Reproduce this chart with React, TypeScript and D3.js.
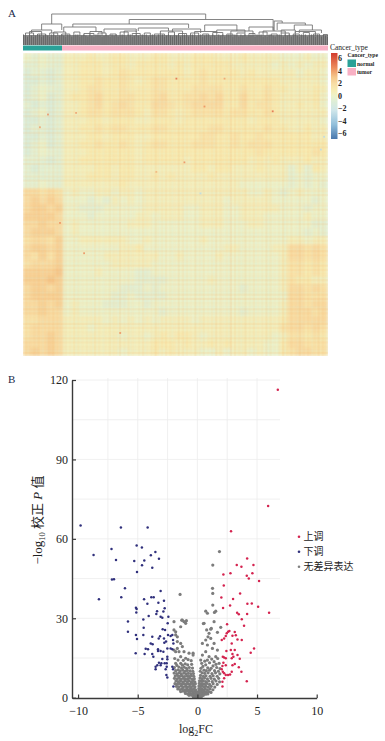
import React, { useEffect, useRef } from "react";
import * as d3 from "d3";

// Panel A: heat map, one digit per cell (first 5 columns are normal samples)
const heatStep = 0.5;
const heatZero = 3;
const heatRows = [
  "32322444544554445544455544454444333433",
  "22322445554554555545455555444443434344",
  "12212445554565555555456555545444443443",
  "11212445565565456655556555555555444443",
  "12322445665565556655566665565565544454",
  "12312455675566556755667675575565444453",
  "21212445675676557765677775575665445453",
  "12312445665666546654566665665565444444",
  "11212444554555445554555555554555444443",
  "12212445565665556655555665555565544544",
  "11212444554555445555556655655655555544",
  "12312445565565456655566655656665555555",
  "12322444555555455555555555555655555565",
  "22212445555555455555455555554545444544",
  "21222444455455444444455455444544424254",
  "22222444555455445454444544444444423233",
  "22322444444454444444444444433333323232",
  "77676343344344344444444444443343234333",
  "78787333232434344444444443444443333323",
  "78878332223333344444334443344444333233",
  "88887333233333443444334443344433333433",
  "77877343333334443333334443334433333322",
  "78887343333333333333333333333333333232",
  "67768334444443343333334333333333344344",
  "78878333333344533333333334433334477676",
  "76868333334444444334333343333333477676",
  "67778333333444443333333333333333466565",
  "88889333343333223333333333333333466565",
  "88898333333333222233333433333333465544",
  "78878333333322232333333333323333477676",
  "78888333333223222233333333333333377666",
  "77878343332223323333333333333333477677",
  "77877343333333333233333333323333477767",
  "66777444443434343444434444444444577777",
  "67777444344444444444444444444444677676",
  "67787444444434434545543444444443466565",
  "77787444444444445554544545444433577666",
  "78787444444434445454443343443433567766",
];
// thin sample and gene stripes seen over the blocks, 4 = neutral
const columnStripes =
  "46354637425364736253645372635463527364254736528463725346372546385263746253847263548362745362847536294736258463725364827354638263745283647526384752";
const rowStripes =
  "53647263548273645263748253647382546372854637284536472835463728453672845367284536728453628473562847356284735628473562849365283746528374652837465283";
// strong single cells: column, row, value
const hotCells = [
  [19, 3.1, 5.5], [25, 3.1, 4], [31, 7.2, 5.5], [22.5, 6.6, 4.5], [3, 7.6, 4.5], [4.5, 21.2, 4.5],
  [22, 17.5, -3], [37, 12, -3], [37.4, 10.4, -3], [6.5, 7.4, 4], [20, 13.6, 4.5], [7.5, 25, 4.5],
  [2, 9.2, 4], [12, 35, 4.5], [16.5, 14.8, 3.5],
];
const heatStops = [-6.9, -4.6, -2.3, -1, -0.5, 0, 0.5, 1, 2, 3, 4.6, 6.9];
const heatColors = ["#4a78ad", "#91bfdb", "#cfe6ea", "#dcedd8", "#e4f0d2", "#ecf2ca", "#f3efbd", "#f7ebb2", "#f8dda4", "#f5c88c", "#ec8a5a", "#d23c2e"];
const heatTicks = [6, 4, 2, 0, -2, -4, -6];

// Dendrogram: left sample, right sample, height, left drop height, right drop height
const leafCount = 152;
const leafTops =
  "98798789978987998789879878997898798798978987989789879978987989789879897898798978987998789789879879897898798798978987989787998789879897898798978987";
const bigMerges = [
  [14, 90.5, 31, 21, 25.5],
  [9, 19, 21, 15, 15],
  [4, 14, 15, 12, 12],
  [52.5, 124, 25.5, 21, 15],
  [24.5, 82, 21, 18, 17],
  [20, 36, 18, 13, 13],
  [57, 72, 17, 14, 14],
  [90, 106, 20, 14, 14],
  [112, 124, 18, 14, 14],
  [124.5, 128.5, 24, 14, 22],
  [126, 140, 22, 15, 20],
  [134.5, 143.5, 20, 15, 15],
  [128, 135, 15, 12, 12],
  [137, 148, 15, 12, 12],
  [40, 56, 16, 12, 13],
  [74, 88, 16, 13, 12],
  [96, 110, 15, 12, 12],
];
const tinyMerges = [
  [1, 5, 12], [7, 11, 11], [13, 17, 12], [19, 23, 11], [25, 28, 13], [30, 35, 11.5], [37, 41, 12], [43, 46, 11], [48, 52, 13],
  [54, 58, 11.5], [60, 63, 12], [65, 70, 11], [72, 75, 13], [77, 81, 11.5], [83, 87, 12], [89, 92, 11], [94, 99, 12.5],
  [101, 104, 11], [106, 110, 12], [112, 115, 11.5], [117, 121, 13], [123, 126, 11], [128, 132, 12], [134, 137, 11],
  [139, 142, 12.5], [144, 147, 11], [149, 151, 10.5], [3, 9, 13.5], [15, 21, 13], [33, 39, 13.5], [50, 56, 14], [68, 79, 14],
  [85, 96, 13.5], [103, 114, 14], [119, 130, 14], [135, 145, 13.5],
];

// Panel B: log2FC, -log10 adjusted P
const upPoints = [
  [6.74, 116.3], [5.93, 72.4], [2.82, 62.9], [4.17, 52.6], [4.7, 50.1], [3.3, 50.1], [3.69, 49.5], [2.18, 46.5], [2.77, 47], [4.61, 47],
  [4.14, 46.1], [4.31, 45], [5.17, 44.1], [2.21, 42.4], [2.01, 37.8], [3.58, 39.4], [2.99, 37.3], [4.19, 35.5], [4.56, 35.6], [2.74, 34.8],
  [2.15, 33.9], [5.09, 34.4], [6.01, 32.1], [3.33, 32.1], [3.47, 31.5], [4.17, 31.6], [3.72, 29.6], [3.91, 27.2], [2.49, 27.7], [2.68, 25.2],
  [2.57, 24.9], [2.46, 24.3], [3.13, 24.8], [3.22, 23.6], [2.94, 23.4], [2.38, 23.3], [2.24, 22.4], [2.04, 21.8], [3.36, 22], [3.72, 21.8],
  [2.88, 20.5], [4.75, 18.6], [4.47, 17], [3.13, 18], [2.8, 18], [2.43, 17.6], [2.13, 15.5], [2.24, 15.2], [2.38, 14.9], [2.94, 16.5],
  [3.02, 15.5], [2.88, 14.9], [3.36, 16.1], [3.55, 14.7], [2.18, 13.2], [2.1, 12], [2.38, 12.3], [2.94, 12.3], [3.13, 12.7], [3.47, 11.5],
  [3.69, 9.8], [2.04, 10.7], [2.13, 9.8], [2.24, 9.2], [2.38, 8.6], [2.57, 8.6], [2.74, 8.8], [2.88, 9.8], [2.24, 7.3], [2.1, 6], [4.14, 6.2], [2.1, 4.2],
];
const downPoints = [
  [-9.79, 65], [-6.41, 64.3], [-4.17, 64.3], [-5.09, 57.5], [-4.65, 56.7], [-3.9, 53.8], [-7.2, 56.2],
  [-8.7, 53.9], [-6.82, 52], [-3.52, 55], [-3.22, 52.5], [-5.29, 51.6], [-4.45, 51.8], [-4.64, 50], [-3.78, 49.1], [-5.06, 47.5],
  [-7.16, 44.6], [-6.99, 44.7], [-6.07, 41.3], [-6.38, 37.9], [-8.25, 37.2], [-3.08, 40.3], [-4.47, 37.2], [-4.19, 35.5], [-3.86, 37.9], [-3.66, 37.9],
  [-3.27, 35.9], [-2.8, 36.6], [-5.15, 34], [-5.09, 33.5], [-5.12, 32.2], [-4.08, 30.9], [-3.38, 32.7], [-3.44, 31.6], [-2.74, 33.8], [-2.85, 32.6],
  [-3.08, 30.6], [-2.94, 30.2], [-2.43, 30.6], [-4.53, 29.5], [-5.82, 28.8], [-2.49, 28.1], [-5.82, 24.9], [-4.5, 26.4], [-2.91, 25.9], [-2.71, 25.6],
  [-5.15, 23.7], [-5.06, 22.2], [-4.53, 23.7], [-3.78, 23], [-3.13, 23.2], [-3.24, 22.4], [-2.46, 23.7], [-2.24, 23.3], [-2.1, 23.7], [-2.8, 22.4],
  [-2.63, 21.2], [-2.77, 20.8], [-3.91, 20.5], [-3.75, 20.2], [-2.04, 21.8], [-2.01, 20.5], [-4.33, 18.5], [-4.14, 18.3], [-4.42, 16.5], [-5.17, 16.8],
  [-3.3, 18.3], [-3.3, 17.6], [-3.08, 17.6], [-2.85, 17.4], [-3.78, 16.5], [-3.69, 15.5], [-2.52, 18.6], [-2.24, 18.6], [-2.1, 18.3], [-2.52, 15.5],
  [-2.52, 14.5], [-2.94, 14.6], [-3.02, 13], [-2.74, 13], [-2.57, 13], [-3.22, 13.2], [-3.36, 12.3], [-3.08, 12.3], [-3.5, 11.7], [-3.5, 10.7],
  [-2.57, 11.7], [-2.66, 10.7], [-2.6, 8.6], [-2.52, 7.6], [-2.1, 11.7], [-2.04, 10.7], [-2.01, 4.2],
];
const flatPoints = [
  [1.85, 55.2], [1.29, 50.1], [1.27, 41.3], [1.29, 39.4], [1.29, 35], [0.7, 32.7], [0.84, 31.9], [1.43, 32.2], [1.54, 32.7], [-1.45, 39],
  [-1.26, 29.3], [-0.98, 28.1], [-1.4, 26.8], [-1.82, 23.7], [-1.68, 23], [-1.4, 20.5], [-1.26, 19.3], [-1.82, 17.4], [-1.54, 17.4], [-1.12, 17.4],
  [-0.7, 16.8], [-0.36, 16.8], [-1.4, 15.5], [-0.98, 14.9], [-1.82, 13], [-1.4, 13], [-1.31, 29.3], [-0.92, 29.1], [-1.12, 28.7], [-1.96, 28.7],
  [-1.96, 25.6], [-1.82, 24.9], [-1.68, 21.2], [-1.68, 18.6], [-1.96, 18], [-0.36, 16.1], [0.56, 28.1], [1.12, 25.9], [0.98, 24.3], [0.89, 23],
  [0.7, 21.8], [1.12, 22.4], [0.42, 20.5], [0.84, 19.9], [1.4, 20.5], [1.68, 18], [1.26, 18.6], [0.7, 17.4], [0.42, 16.1], [0.98, 15.5],
  [1.54, 15.5], [0.28, 14.2], [0.84, 14.2], [1.4, 13.6], [0.5, 28], [1.17, 26.2], [1.4, 28.7], [0.78, 25.6], [1.68, 24.7], [1.96, 26.6],
  // left arm, dense part
  [-1.9, 14.8], [-1.62, 14.2], [-1.18, 14.1], [-0.78, 14.4], [-0.52, 14], [-1.72, 12.2], [-1.25, 12.3], [-1.02, 12.8], [-0.81, 12.4], [-0.48, 12.6],
  [-1.93, 11.4], [-1.55, 11.6], [-1.33, 11.2], [-1.1, 11.5], [-0.92, 11.1], [-0.68, 11.4], [-0.41, 11.2], [-1.82, 10.2], [-1.61, 10.5], [-1.44, 10.1],
  [-1.22, 10.4], [-1.03, 10], [-0.84, 10.3], [-0.61, 10.1], [-0.38, 10], [-1.95, 9.3], [-1.74, 9.1], [-1.52, 9.4], [-1.35, 9], [-1.14, 9.3],
  [-0.95, 9], [-0.76, 9.2], [-0.55, 9], [-0.33, 9.1], [-1.86, 8.2], [-1.66, 8.4], [-1.47, 8.1], [-1.28, 8.3], [-1.08, 8], [-0.89, 8.3],
  [-0.7, 8.1], [-0.5, 8.3], [-0.3, 8.1], [-1.92, 7.3], [-1.71, 7.1], [-1.56, 7.4], [-1.38, 7], [-1.19, 7.3], [-1.01, 7], [-0.82, 7.2],
  [-0.64, 7.4], [-0.44, 7], [-0.26, 7.2], [-1.8, 6.3], [-1.63, 6.1], [-1.42, 6.4], [-1.24, 6], [-1.06, 6.3], [-0.87, 6.1], [-0.71, 6.4],
  [-0.53, 6], [-0.36, 6.3], [-0.22, 6], [-1.88, 5.3], [-1.68, 5.1], [-1.49, 5.4], [-1.3, 5], [-1.12, 5.3], [-0.95, 5], [-0.78, 5.3],
  [-0.6, 5.1], [-0.42, 5.4], [-0.27, 5.1], [-0.17, 5.3], [-1.76, 4.3], [-1.57, 4.1], [-1.37, 4.4], [-1.18, 4], [-1, 4.3], [-0.83, 4],
  [-0.66, 4.3], [-0.5, 4.1], [-0.34, 4.4], [-0.2, 4.1], [-1.64, 3.3], [-1.45, 3.1], [-1.26, 3.4], [-1.07, 3], [-0.9, 3.3], [-0.73, 3],
  [-0.57, 3.4], [-0.42, 3.1], [-0.28, 3.3], [-0.15, 3], [-1.4, 2.3], [-1.22, 2.5], [-1.03, 2.2], [-0.86, 2.5], [-0.69, 2.2], [-0.53, 2.5],
  [-0.39, 2.2], [-0.25, 2.4], [-0.11, 2.2], [-1, 1.6], [-0.82, 1.4], [-0.65, 1.7], [-0.49, 1.4], [-0.34, 1.6], [-0.2, 1.4], [-0.08, 1.6],
  [-0.7, 0.9], [-0.52, 1], [-0.36, 0.8], [-0.22, 1], [-0.1, 0.8], [-0.34, 0.4], [-0.2, 0.3], [-0.07, 0.4], [-0.02, 0.2],
  // right arm, dense part
  [1.7, 14.8], [1.2, 14.6], [0.62, 13.8], [0.36, 13], [1.02, 13.2], [1.56, 12.6], [1.82, 13], [0.7, 12.4], [1.31, 12], [0.46, 11.8],
  [0.3, 11.1], [0.87, 11.3], [1.15, 11.1], [1.62, 11.4], [1.9, 11], [0.55, 10.4], [0.75, 10.2], [1.02, 10.4], [1.44, 10.2], [1.76, 10],
  [0.24, 10], [0.4, 9.4], [0.62, 9.2], [0.9, 9.4], [1.22, 9.1], [1.52, 9.4], [1.88, 9], [0.26, 8.4], [0.5, 8.1], [0.72, 8.3],
  [1.06, 8.1], [1.32, 8.3], [1.66, 8.1], [0.22, 7.4], [0.38, 7.2], [0.6, 7.4], [0.84, 7.1], [1.14, 7.3], [1.42, 7], [1.78, 7.3],
  [0.18, 6.4], [0.33, 6.2], [0.5, 6.4], [0.7, 6.1], [0.94, 6.3], [1.24, 6.1], [1.56, 6.3], [1.86, 6], [0.16, 5.4], [0.3, 5.1],
  [0.44, 5.3], [0.6, 5.1], [0.8, 5.4], [1.02, 5], [1.32, 5.3], [1.66, 5], [0.13, 4.4], [0.26, 4.2], [0.4, 4.4], [0.55, 4.1],
  [0.72, 4.3], [0.92, 4], [1.16, 4.3], [1.46, 4], [0.12, 3.4], [0.23, 3.1], [0.36, 3.3], [0.5, 3], [0.66, 3.3], [0.84, 3],
  [1.06, 3.3], [1.3, 3], [0.1, 2.4], [0.2, 2.2], [0.32, 2.4], [0.45, 2.1], [0.6, 2.4], [0.76, 2.1], [0.96, 2.3], [1.14, 2],
  [0.07, 1.6], [0.16, 1.4], [0.27, 1.6], [0.4, 1.3], [0.54, 1.6], [0.7, 1.3], [0.88, 1.4], [0.06, 0.9], [0.14, 0.8], [0.25, 1],
  [0.37, 0.7], [0.5, 0.9], [0.03, 0.4], [0.1, 0.3], [0.2, 0.4], [0.32, 0.3],
];
const xTicks = [-10, -5, 0, 5, 10];
const yTicks = [0, 30, 60, 90, 120];
const xGrid = [-7.5, -5, -2.5, 0, 2.5, 5];
const yGrid = [15, 30, 45, 60, 75, 90, 105, 120];
const legendItems = [
  ["上调", "#d4234f"],
  ["下调", "#30307c"],
  ["无差异表达", "#808080"],
];

const serif = "'Liberation Serif', 'Noto Sans CJK SC', serif";

export default function App() {
  const svgRef = useRef<SVGSVGElement>(null);

  useEffect(() => {
    const svg = d3.select(svgRef.current);
    svg.selectAll("*").remove();
    svg.style("font-family", serif);

    const heatColor = d3.scaleLinear<string>().domain(heatStops).range(heatColors);

    // A: dendrogram
    const leafX = d3.scaleLinear().domain([0, leafCount - 1]).range([23.5, 327.5]);
    const treeY = d3.scaleLinear().domain([0, 31]).range([45, 14]);
    const tree = svg.append("g").attr("fill", "none");
    tree.append("rect").attr("x", 23).attr("y", treeY(10)).attr("width", 305).attr("height", treeY(0) - treeY(10)).attr("fill", "#8a8a8a");
    d3.range(leafCount).forEach((i) => {
      tree.append("line").attr("x1", leafX(i)).attr("x2", leafX(i)).attr("y1", treeY(0)).attr("y2", treeY(+leafTops[i % leafTops.length] + 1.5))
        .attr("stroke", "#666").attr("stroke-width", 1);
    });
    tinyMerges.forEach(([a, b, h]) => {
      tree.append("path").attr("stroke", "#666").attr("stroke-width", 0.8)
        .attr("d", `M${leafX(a)},${treeY(9)}V${treeY(h)}H${leafX(b)}V${treeY(9)}`);
    });
    bigMerges.forEach(([a, b, h, ha, hb]) => {
      tree.append("path").attr("stroke", "#777").attr("stroke-width", 0.9)
        .attr("d", `M${leafX(a)},${treeY(ha)}V${treeY(h)}H${leafX(b)}V${treeY(hb)}`);
    });

    // A: annotation bar
    svg.append("rect").attr("x", 23).attr("y", 45.5).attr("width", 39).attr("height", 5).attr("fill", "#2aa198");
    svg.append("rect").attr("x", 62).attr("y", 45.5).attr("width", 266).attr("height", 5).attr("fill", "#f8b0c4");

    // A: heat map
    const colX = d3.scaleLinear().domain([0, 38]).range([23, 328]);
    const rowY = d3.scaleLinear().domain([0, heatRows.length]).range([53, 356]);
    const defs = svg.append("defs");
    defs.append("filter").attr("id", "soft").append("feGaussianBlur").attr("stdDeviation", 1.8);
    defs.append("filter").attr("id", "softer").append("feGaussianBlur").attr("stdDeviation", 0.7);
    defs.append("clipPath").attr("id", "heatClip").append("rect").attr("x", 23).attr("y", 53).attr("width", 305).attr("height", 303);
    const heatClip = svg.append("g").attr("clip-path", "url(#heatClip)");
    const heat = heatClip.append("g").attr("filter", "url(#soft)");
    heatRows.forEach((row, r) => {
      row.split("").forEach((d, c) => {
        heat.append("rect").attr("x", colX(c) - 0.2).attr("y", rowY(r) - 0.2)
          .attr("width", colX(1) - colX(0) + 0.4).attr("height", rowY(1) - rowY(0) + 0.4)
          .attr("fill", heatColor((+d - heatZero) * heatStep));
      });
    });
    // stripes: above 4 warms the cell line, below 4 cools it
    const stripes = heatClip.append("g").attr("filter", "url(#softer)");
    const stripeFill = (d: number) => (d > 4 ? "#f2a35e" : "#b5dbe2");
    const stripeAlpha = (d: number) => Math.abs(d - 4) * 0.03;
    const stripeX = d3.scaleLinear().domain([0, columnStripes.length]).range([23, 328]);
    const stripeY = d3.scaleLinear().domain([0, rowStripes.length]).range([53, 356]);
    columnStripes.split("").forEach((d, i) => {
      stripes.append("rect").attr("x", stripeX(i)).attr("y", 53).attr("width", stripeX(1) - stripeX(0)).attr("height", 303)
        .attr("fill", stripeFill(+d)).attr("opacity", stripeAlpha(+d));
    });
    rowStripes.split("").forEach((d, i) => {
      stripes.append("rect").attr("x", 23).attr("y", stripeY(i)).attr("width", 305).attr("height", stripeY(1) - stripeY(0))
        .attr("fill", stripeFill(+d)).attr("opacity", stripeAlpha(+d));
    });
    heatClip.append("g").selectAll("rect").data(hotCells).join("rect")
      .attr("x", (d) => colX(d[0])).attr("y", (d) => rowY(d[1]))
      .attr("width", 1.8).attr("height", 1.8).attr("fill", (d) => heatColor(d[2])).attr("opacity", 0.85);

    // A: legends
    svg.append("text").attr("x", 330).attr("y", 50).attr("font-size", 7.5).attr("fill", "#222").text("Cancer_type");
    const barY = d3.scaleLinear().domain([6.9, -6.9]).range([53, 139]);
    const barId = "heatBar";
    const grad = defs.append("linearGradient").attr("id", barId).attr("x1", 0).attr("x2", 0).attr("y1", 0).attr("y2", 1);
    [...heatStops].reverse().forEach((s) => {
      grad.append("stop").attr("offset", `${((6.9 - s) / 13.8) * 100}%`).attr("stop-color", heatColor(s));
    });
    svg.append("rect").attr("x", 331).attr("y", 53).attr("width", 6.5).attr("height", 86).attr("fill", `url(#${barId})`);
    heatTicks.forEach((t) => {
      svg.append("text").attr("x", 338).attr("y", barY(t) + 2.8).attr("font-size", 8).attr("font-weight", 700).attr("fill", "#222")
        .text(t < 0 ? `−${-t}` : `${t}`);
    });
    svg.append("text").attr("x", 347.5).attr("y", 57).attr("font-size", 5.6).attr("font-weight", 700).attr("fill", "#222").text("Cancer_type");
    svg.append("rect").attr("x", 347.5).attr("y", 59.5).attr("width", 8.5).attr("height", 7.5).attr("fill", "#2aa198");
    svg.append("rect").attr("x", 347.5).attr("y", 68).attr("width", 8.5).attr("height", 7.5).attr("fill", "#f8b0c4");
    svg.append("text").attr("x", 357).attr("y", 65.5).attr("font-size", 5.6).attr("font-weight", 700).attr("fill", "#222").text("normal");
    svg.append("text").attr("x", 357).attr("y", 73.5).attr("font-size", 5.6).attr("font-weight", 700).attr("fill", "#222").text("tumor");

    svg.append("text").attr("x", 8).attr("y", 17).attr("font-size", 11).attr("fill", "#1a2a4a").text("A");
    svg.append("text").attr("x", 8).attr("y", 383).attr("font-size", 11).attr("fill", "#1a2a4a").text("B");

    // B: scales, grid
    const x = d3.scaleLinear().domain([-10.5, 10]).range([72.1, 316.7]);
    const y = d3.scaleLinear().domain([0, 120]).range([697.7, 380]);
    const grid = svg.append("g").attr("stroke", "#ececec").attr("stroke-width", 0.8);
    xGrid.forEach((v) => {
      grid.append("line").attr("x1", x(v)).attr("x2", x(v)).attr("y1", 378).attr("y2", 697);
    });
    yGrid.forEach((v) => {
      grid.append("line").attr("x1", 72).attr("x2", 280).attr("y1", y(v)).attr("y2", y(v));
    });

    // B: points
    const dots = (pts: number[][], fill: string, r: number) =>
      svg.append("g").selectAll("circle").data(pts).join("circle")
        .attr("cx", (d) => x(d[0])).attr("cy", (d) => y(d[1])).attr("r", r).attr("fill", fill);
    dots(flatPoints, "#7c7c7c", 1.6);
    dots(downPoints, "#30307c", 1.25);
    dots(upPoints, "#d4234f", 1.25);

    // B: axes
    const xAxis = svg.append("g").attr("transform", "translate(0,698)")
      .call(d3.axisBottom(x).tickValues(xTicks).tickSizeInner(-3.5).tickSizeOuter(0).tickPadding(8));
    const yAxis = svg.append("g").attr("transform", "translate(72,0)")
      .call(d3.axisLeft(y).tickValues(yTicks).tickSizeInner(-4).tickSizeOuter(0).tickPadding(4));
    [xAxis, yAxis].forEach((a) => {
      a.selectAll("path").attr("stroke", "#3a3a3a").attr("stroke-width", 1.4);
      a.selectAll("line").attr("stroke", "#3a3a3a").attr("stroke-width", 1.2);
      a.selectAll("text").attr("font-family", serif).attr("font-size", 12).attr("fill", "#222");
    });

    // B: titles
    const xTitle = svg.append("text").attr("x", 196).attr("y", 733).attr("text-anchor", "middle").attr("font-size", 12).attr("fill", "#222");
    xTitle.append("tspan").text("log");
    xTitle.append("tspan").attr("font-size", 8).attr("dy", 2.5).text("2");
    xTitle.append("tspan").attr("dy", -2.5).text("FC");
    const yTitle = svg.append("text").attr("transform", "translate(42,520) rotate(-90)").attr("text-anchor", "middle").attr("font-size", 13).attr("fill", "#222");
    yTitle.append("tspan").text("−log");
    yTitle.append("tspan").attr("font-size", 8.5).attr("dy", 2.5).text("10");
    yTitle.append("tspan").attr("dy", -2.5).text(" 校正 ");
    yTitle.append("tspan").attr("font-style", "italic").text("P");
    yTitle.append("tspan").text(" 值");

    // B: legend
    legendItems.forEach(([label, color], i) => {
      const ly = 536.7 + i * 15;
      svg.append("circle").attr("cx", 299).attr("cy", ly).attr("r", 1.3).attr("fill", color);
      svg.append("text").attr("x", 303.5).attr("y", ly + 3.6).attr("font-size", 10).attr("fill", "#222").text(label);
    });
  }, []);

  return <svg ref={svgRef} width={385} height={741} style={{ position: "absolute", left: 0, top: 0, background: "#fff" }} />;
}
